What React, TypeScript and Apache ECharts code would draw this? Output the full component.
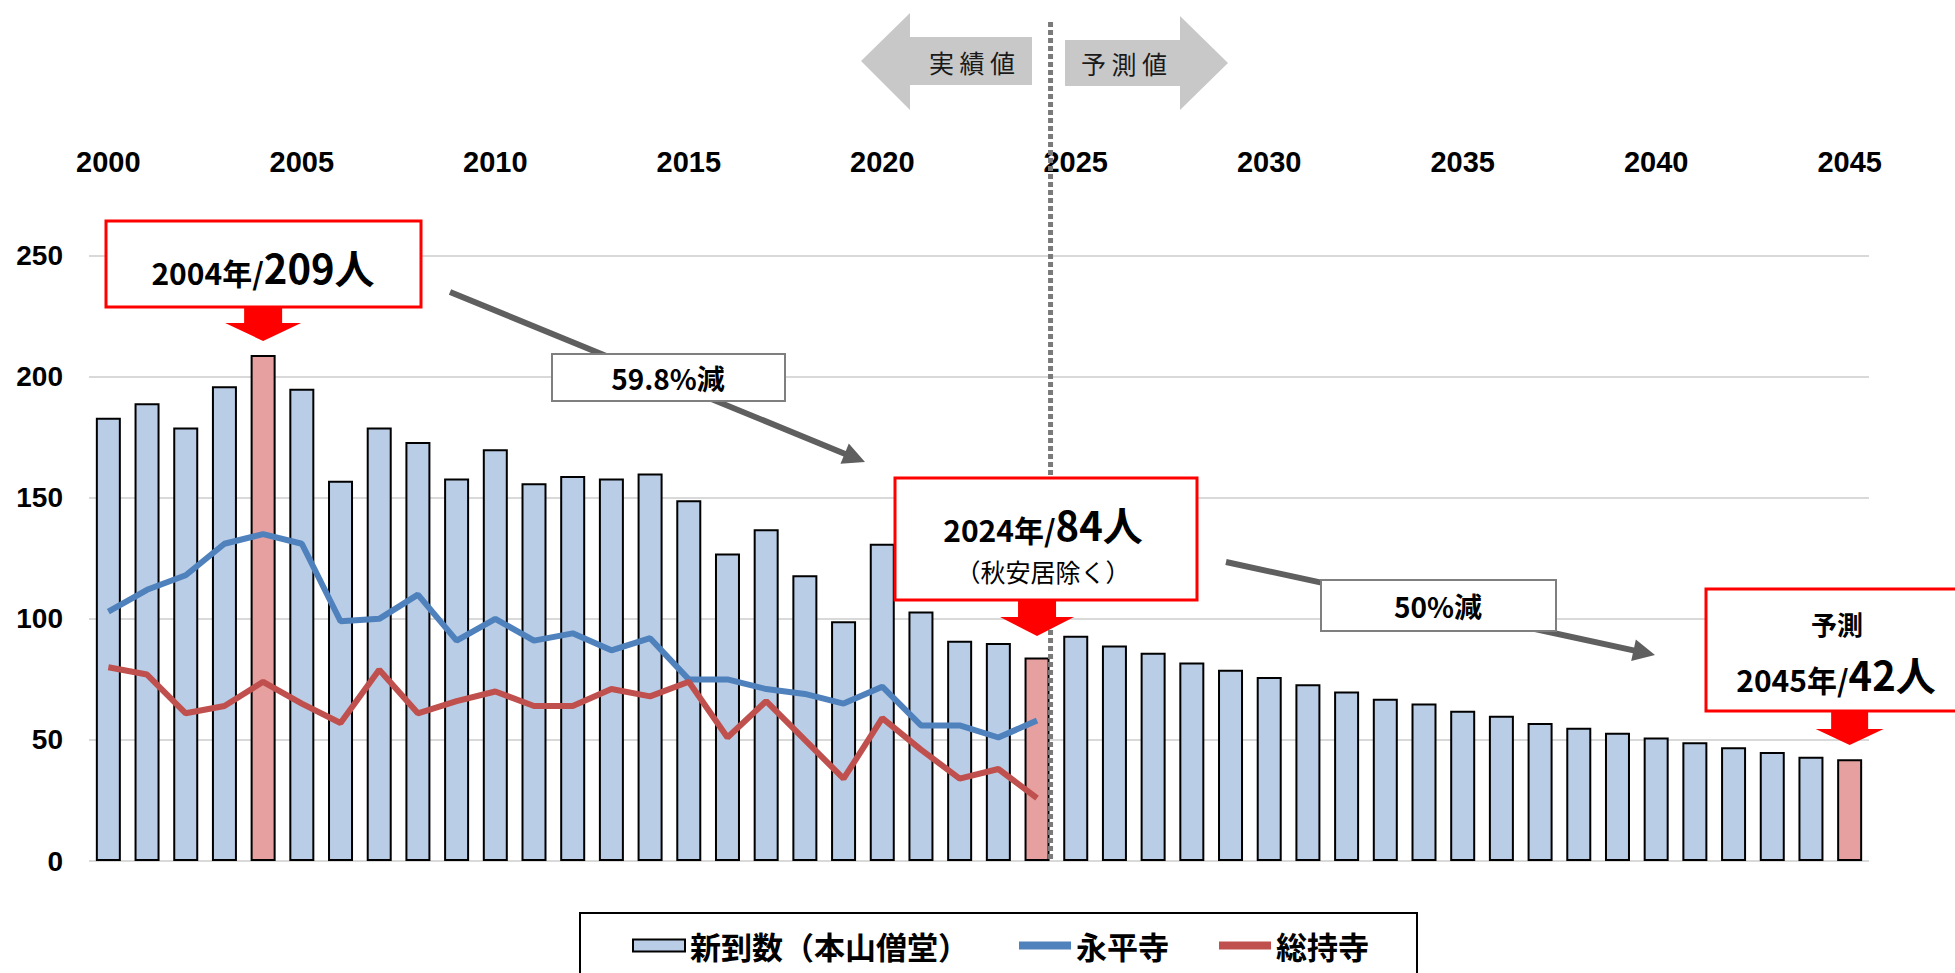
import React, { useEffect, useRef } from 'react';
import * as echarts from 'echarts';

const years = [
  '2000', '2001', '2002', '2003', '2004', '2005', '2006', '2007', '2008', '2009',
  '2010', '2011', '2012', '2013', '2014', '2015', '2016', '2017', '2018', '2019',
  '2020', '2021', '2022', '2023', '2024', '2025', '2026', '2027', '2028', '2029',
  '2030', '2031', '2032', '2033', '2034', '2035', '2036', '2037', '2038', '2039',
  '2040', '2041', '2042', '2043', '2044', '2045',
];

// 新到数（本山僧堂）: actual 2000-2024, forecast 2025-2045
const shintoCounts = [
  183, 189, 179, 196, 209, 195, 157, 179, 173, 158,
  170, 156, 159, 158, 160, 149, 127, 137, 118, 99,
  131, 103, 91, 90, 84, 93, 89, 86, 82, 79,
  76, 73, 70, 67, 65, 62, 60, 57, 55, 53,
  51, 49, 47, 45, 43, 42,
];

// 永平寺 2000-2024
const eiheiji = [
  103, 112, 118, 131, 135, 131, 99, 100, 110, 91,
  100, 91, 94, 87, 92, 75, 75, 71, 69, 65,
  72, 56, 56, 51, 58,
];

// 総持寺 2000-2024
const sojiji = [
  80, 77, 61, 64, 74, 65, 57, 79, 61, 66,
  70, 64, 64, 71, 68, 74, 51, 66, 50, 34,
  59, 46, 34, 38, 26,
];

const highlightYears = ['2004', '2024', '2045'];

const Y_MIN = 0;
const Y_MAX = 250;
const Y_INTERVAL = 50;

const BAR_BLUE = '#B9CDE6';
const BAR_RED = '#E6A0A0';
const LINE_BLUE = '#4F81BD';
const LINE_RED = '#C0504D';
const JP = '"Noto Sans CJK JP", "Noto Sans", sans-serif';
const NUM = '"Liberation Sans", Arial, sans-serif';

function arrowPoints(x1: number, y1: number, x2: number, y2: number, sw: number, hl: number, hw: number) {
  const dx = x2 - x1;
  const dy = y2 - y1;
  const len = Math.hypot(dx, dy);
  const ux = dx / len;
  const uy = dy / len;
  const px = -uy;
  const py = ux;
  const bx = x2 - ux * hl;
  const by = y2 - uy * hl;
  return [
    [x1 + (px * sw) / 2, y1 + (py * sw) / 2],
    [bx + (px * sw) / 2, by + (py * sw) / 2],
    [bx + (px * hw) / 2, by + (py * hw) / 2],
    [x2, y2],
    [bx - (px * hw) / 2, by - (py * hw) / 2],
    [bx - (px * sw) / 2, by - (py * sw) / 2],
    [x1 - (px * sw) / 2, y1 - (py * sw) / 2],
  ];
}

export default function App() {
  const ref = useRef<HTMLDivElement>(null);

  useEffect(() => {
    if (!ref.current) return;
    const chart = echarts.init(ref.current, null, { renderer: 'svg' });
    const barWidth = 25;
    const lineIcon = 'path://M0,0H52V8H0Z';

    chart.setOption({
      animation: false,
      backgroundColor: '#ffffff',
      grid: { left: 89, right: 86, top: 255.6, bottom: 112, containLabel: false },
      xAxis: {
        type: 'category',
        data: years,
        position: 'top',
        boundaryGap: true,
        axisLine: { show: false },
        axisTick: { show: false },
        splitLine: { show: false },
        axisLabel: {
          interval: 4,
          margin: 79,
          fontSize: 29,
          fontWeight: 'bold',
          color: '#000',
          fontFamily: NUM,
        },
      },
      yAxis: {
        type: 'value',
        min: Y_MIN,
        max: Y_MAX,
        interval: Y_INTERVAL,
        axisLine: { show: false },
        axisTick: { show: false },
        axisLabel: {
          margin: 26,
          fontSize: 28,
          fontWeight: 'bold',
          color: '#000',
          fontFamily: NUM,
        },
        splitLine: { lineStyle: { color: '#d9d9d9', width: 2 } },
      },
      legend: {
        left: 580,
        top: 913,
        padding: [17, 48, 40, 52],
        borderColor: '#000',
        borderWidth: 2,
        itemWidth: 52,
        itemHeight: 12,
        itemGap: 50,
        symbolKeepAspect: true,
        textStyle: { fontSize: 31, fontWeight: 'bold', color: '#000', fontFamily: JP },
        data: [
          { name: '新到数（本山僧堂）', icon: 'rect' },
          { name: '永平寺', icon: lineIcon, itemStyle: { color: LINE_BLUE, borderWidth: 0 } },
          { name: '総持寺', icon: lineIcon, itemStyle: { color: LINE_RED, borderWidth: 0 } },
        ],
      },
      series: [
        {
          name: '新到数（本山僧堂）',
          type: 'bar',
          barWidth,
          data: shintoCounts.map((v, i) => ({
            value: v,
            itemStyle: { color: highlightYears.includes(years[i]) ? BAR_RED : BAR_BLUE },
          })),
          itemStyle: { color: BAR_BLUE, borderColor: '#000', borderWidth: 2 },
          z: 2,
        },
        {
          name: '永平寺',
          type: 'line',
          data: eiheiji,
          symbol: 'none',
          lineStyle: { color: LINE_BLUE, width: 6 },
          itemStyle: { color: LINE_BLUE },
          z: 3,
        },
        {
          name: '総持寺',
          type: 'line',
          data: sojiji,
          symbol: 'none',
          lineStyle: { color: LINE_RED, width: 6 },
          itemStyle: { color: LINE_RED },
          z: 3,
        },
      ],
    });

    const px = (cat: string) => chart.convertToPixel({ xAxisIndex: 0 }, cat) as number;
    const x2004 = px('2004');
    const x2024 = px('2024');
    const x2045 = px('2045');
    const y0 = chart.convertToPixel({ yAxisIndex: 0 }, 0) as number;
    const divX = x2024 + barWidth / 2 + 1;

    const redArrow = (cx: number, yTop: number, yTip: number, sw: number, hl: number, hw: number) => ({
      type: 'polygon',
      shape: { points: arrowPoints(cx, yTop, cx, yTip, sw, hl, hw) },
      style: { fill: '#ff0000' },
      z: 21,
    });

    const grayArrow = (x1: number, y1: number, x2: number, y2: number) => ({
      type: 'polygon',
      shape: { points: arrowPoints(x1, y1, x2, y2, 6, 22, 22) },
      style: { fill: '#5f5f5f' },
      z: 15,
    });

    const bigLabel = (text: string, x: number, y: number) => ({
      type: 'text',
      x,
      y,
      style: {
        text,
        align: 'center',
        verticalAlign: 'middle',
        fill: '#000',
        rich: {
          a: { fontSize: 30, lineHeight: 42, fontWeight: 'bold', fontFamily: JP, fill: '#000', verticalAlign: 'bottom' },
          b: { fontSize: 40, lineHeight: 42, fontWeight: 'bold', fontFamily: JP, fill: '#000', verticalAlign: 'bottom' },
        },
      },
      z: 21,
    });

    chart.setOption({
      graphic: [
        // divider between actual and forecast
        {
          type: 'line',
          shape: { x1: divX, y1: 22, x2: divX, y2: y0 },
          style: { stroke: '#7a7a7a', lineWidth: 5, lineDash: [5, 3] },
          z: 10,
        },
        // top arrows
        {
          type: 'polygon',
          shape: {
            points: [[861, 61], [910, 13], [910, 37], [1032, 37], [1032, 85], [910, 85], [910, 110]],
          },
          style: { fill: '#c8c8c8' },
          z: 5,
        },
        {
          type: 'polygon',
          shape: {
            points: [[1065, 40], [1180, 40], [1180, 16], [1228, 63], [1180, 110], [1180, 86], [1065, 86]],
          },
          style: { fill: '#c8c8c8' },
          z: 5,
        },
        {
          type: 'text',
          x: 972,
          y: 62,
          style: { text: '実 績 値', fontSize: 25, fontFamily: JP, fill: '#1a1a1a', align: 'center', verticalAlign: 'middle' },
          z: 6,
        },
        {
          type: 'text',
          x: 1124,
          y: 63,
          style: { text: '予 測 値', fontSize: 25, fontFamily: JP, fill: '#1a1a1a', align: 'center', verticalAlign: 'middle' },
          z: 6,
        },
        // gray trend arrows
        grayArrow(450, 292, 865, 462),
        grayArrow(1226, 562, 1655, 655),
        {
          type: 'rect',
          shape: { x: 552, y: 354, width: 233, height: 47 },
          style: { fill: '#fff', stroke: '#7f7f7f', lineWidth: 2 },
          z: 16,
        },
        {
          type: 'text',
          x: 668,
          y: 378,
          style: { text: '59.8%減', fontSize: 28, fontWeight: 'bold', fontFamily: JP, fill: '#000', align: 'center', verticalAlign: 'middle' },
          z: 17,
        },
        {
          type: 'rect',
          shape: { x: 1321, y: 580, width: 235, height: 51 },
          style: { fill: '#fff', stroke: '#7f7f7f', lineWidth: 2 },
          z: 16,
        },
        {
          type: 'text',
          x: 1438,
          y: 606,
          style: { text: '50%減', fontSize: 28, fontWeight: 'bold', fontFamily: JP, fill: '#000', align: 'center', verticalAlign: 'middle' },
          z: 17,
        },
        // callout 2004
        {
          type: 'rect',
          shape: { x: 106, y: 221, width: 315, height: 86 },
          style: { fill: '#fff', stroke: '#ff0000', lineWidth: 3 },
          z: 20,
        },
        bigLabel('{a|2004年/}{b|209人}', 263, 266),
        redArrow(x2004, 307, 341, 38, 18, 76),
        // callout 2024
        {
          type: 'rect',
          shape: { x: 895, y: 478, width: 302, height: 122 },
          style: { fill: '#fff', stroke: '#ff0000', lineWidth: 3 },
          z: 20,
        },
        bigLabel('{a|2024年/}{b|84人}', 1043, 523),
        {
          type: 'text',
          x: 1043,
          y: 571,
          style: { text: '（秋安居除く）', fontSize: 25, lineHeight: 26, fontFamily: JP, fill: '#000', align: 'center', verticalAlign: 'middle' },
          z: 21,
        },
        redArrow(x2024, 599, 636, 38, 19, 74),
        // callout 2045
        {
          type: 'rect',
          shape: { x: 1706, y: 589, width: 300, height: 122 },
          style: { fill: '#fff', stroke: '#ff0000', lineWidth: 3 },
          z: 20,
        },
        {
          type: 'text',
          x: 1837,
          y: 623,
          style: { text: '予測', fontSize: 26, fontWeight: 'bold', fontFamily: JP, fill: '#000', align: 'center', verticalAlign: 'middle' },
          z: 21,
        },
        bigLabel('{a|2045年/}{b|42人}', 1836, 673),
        redArrow(x2045, 710, 745, 37, 16, 68),
      ],
    });

    return () => {
      chart.dispose();
    };
  }, []);

  return (
    <div
      ref={ref}
      style={{ position: 'fixed', left: 0, top: 0, width: 1955, height: 973, background: '#fff' }}
    />
  );
}
